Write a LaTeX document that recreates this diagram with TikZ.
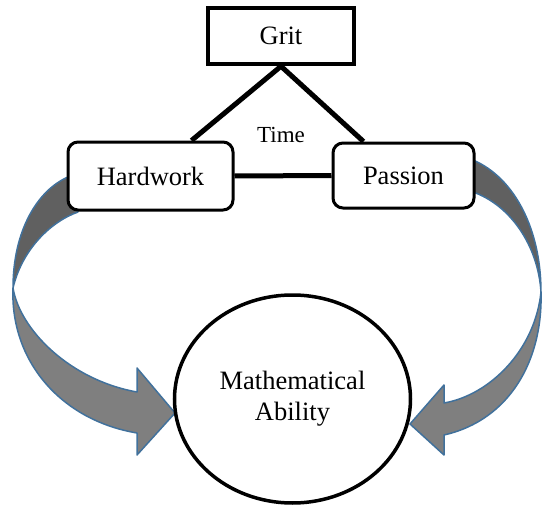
\documentclass[tikz,border=0pt]{standalone}
\usepackage{fontspec}
\setmainfont{Liberation Serif}
\usetikzlibrary{shapes.geometric}

\definecolor{bandlight}{HTML}{7F7F7F}
\definecolor{banddark}{HTML}{606060}
\definecolor{bandedge}{HTML}{41719C}

\begin{document}
\begin{tikzpicture}[x=1pt,y=-1pt,
  word/.style={font=\fontsize{26.5}{31}\selectfont},
  box/.style={draw,fill=white,line width=3pt,rounded corners=10pt,word},
  band/.style={draw=bandedge,line width=1.5pt,line join=round}]
\useasboundingbox (0,0) rectangle (542,506);

\draw[band,fill=banddark]
(68,177) .. controls (38,190) and (13,230) .. (13,288)
.. controls (22,250) and (50,222) .. (78,212) -- cycle;
\draw[band,fill=bandlight]
(13,288) .. controls (10,360) and (60,420) .. (137,433)
-- (137,455) -- (175,413) -- (137,368) -- (137,392)
.. controls (70,380) and (20,330) .. (13,288) -- cycle;

\draw[band,fill=banddark]
(473,160) .. controls (515,178) and (541,230) .. (541,292)
.. controls (538,245) and (510,205) .. (473,192) -- cycle;
\draw[band,fill=bandlight]
(541,292) .. controls (543,360) and (510,420) .. (444,435)
-- (444,455) -- (410,424) -- (444,385) -- (444,403)
.. controls (490,395) and (535,350) .. (541,292) -- cycle;

\node[draw,fill=white,line width=4.5pt,minimum width=146pt,minimum height=56pt,word]
  (grit) at (281,36) {Grit};
\node[box,minimum width=165pt,minimum height=68pt] (hardwork) at (150.5,176) {Hardwork};
\node[box,minimum width=141pt,minimum height=65pt] (passion) at (403.5,175.5) {Passion};
\node[ellipse,draw,fill=white,line width=3.5pt,inner sep=0pt,
  minimum width=236pt,minimum height=208pt,align=center,word]
  (ability) at (292.5,399) {Mathematical\\Ability};
\node[font=\fontsize{23}{27}\selectfont] (time) at (281,135) {Time};

\draw[line width=5pt]
(grit.south) -- ([xshift=-43pt]hardwork.north east)
(grit.south) -- ([xshift=32pt]passion.north west)
(hardwork.east) -- (passion.west);
\end{tikzpicture}
\end{document}
